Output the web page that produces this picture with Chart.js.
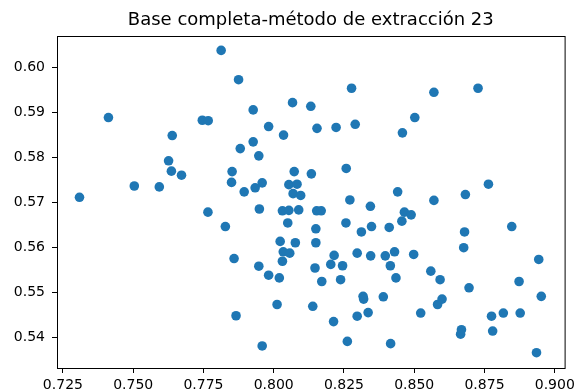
<!DOCTYPE html>
<html>
<head>
<meta charset="utf-8">
<script src="https://cdn.jsdelivr.net/npm/chart.js@4/dist/chart.umd.min.js"></script>
<style>
  body { margin: 0; background: #fff; }
  #wrap { width: 579px; height: 392px; }
</style>
</head>
<body>
<div id="wrap"><canvas id="scatterChart" width="579" height="392"></canvas></div>
<script>
const titleText = "Base completa-método de extracción 23";

const xValues = [
  0.7813, 0.7412, 0.7746, 0.7767, 0.7639, 0.7626, 0.7636, 0.7672, 0.7504, 0.7593,
  0.7309, 0.7875, 0.8277, 0.8067, 0.8132, 0.7927, 0.7982, 0.8035, 0.8154, 0.8222,
  0.8290, 0.7927, 0.7881, 0.7947, 0.7852, 0.7850, 0.7895, 0.7934, 0.7959, 0.8073,
  0.8134, 0.8258, 0.8054, 0.8083, 0.8069, 0.8096, 0.8271, 0.8441, 0.8570, 0.8727,
  0.8502, 0.8458, 0.8570, 0.8682, 0.8764, 0.7766, 0.7828, 0.7949, 0.8031, 0.8054,
  0.8089, 0.8153, 0.8169, 0.8344, 0.8050, 0.8150, 0.8257, 0.8312, 0.8348, 0.8411,
  0.8023, 0.8077, 0.8150, 0.8034, 0.8057, 0.8031, 0.7859, 0.7947, 0.7982, 0.8020,
  0.8147, 0.8171, 0.8215, 0.8203, 0.8245, 0.8238, 0.8297, 0.8345, 0.8397, 0.8415,
  0.8430, 0.8435, 0.8012, 0.8139, 0.8318, 0.8320, 0.8390, 0.7866, 0.8213, 0.8297,
  0.8336, 0.7959, 0.8262, 0.8416, 0.8465, 0.8489, 0.8456, 0.8679, 0.8847, 0.8498,
  0.8676, 0.8559, 0.8592, 0.8695, 0.8943, 0.8873, 0.8952, 0.8583, 0.8599, 0.8523,
  0.8775, 0.8817, 0.8877, 0.8668, 0.8665, 0.8779, 0.8935
];

const yValues = [
  0.6038, 0.5889, 0.5883, 0.5882, 0.5849, 0.5793, 0.5770, 0.5761, 0.5737, 0.5735,
  0.5712, 0.5973, 0.5954, 0.5922, 0.5914, 0.5906, 0.5869, 0.5850, 0.5865, 0.5867,
  0.5874, 0.5835, 0.5820, 0.5804, 0.5769, 0.5745, 0.5724, 0.5733, 0.5744, 0.5769,
  0.5764, 0.5776, 0.5740, 0.5741, 0.5720, 0.5716, 0.5706, 0.5724, 0.5945, 0.5954,
  0.5889, 0.5855, 0.5705, 0.5718, 0.5741, 0.5679, 0.5647, 0.5686, 0.5682, 0.5683,
  0.5684, 0.5682, 0.5682, 0.5692, 0.5655, 0.5642, 0.5655, 0.5635, 0.5647, 0.5645,
  0.5614, 0.5611, 0.5611, 0.5591, 0.5588, 0.5570, 0.5576, 0.5559, 0.5539, 0.5533,
  0.5555, 0.5525, 0.5583, 0.5563, 0.5560, 0.5529, 0.5588, 0.5582, 0.5582, 0.5560,
  0.5591, 0.5533, 0.5474, 0.5470, 0.5492, 0.5486, 0.5491, 0.5449, 0.5436, 0.5448,
  0.5456, 0.5382, 0.5392, 0.5387, 0.5679, 0.5673, 0.5659, 0.5635, 0.5647, 0.5585,
  0.5600, 0.5548, 0.5529, 0.5511, 0.5574, 0.5525, 0.5492, 0.5474, 0.5486, 0.5455,
  0.5448, 0.5455, 0.5455, 0.5418, 0.5408, 0.5415, 0.5367
];

const xTicks = [0.725, 0.750, 0.775, 0.800, 0.825, 0.850, 0.875, 0.900];
const yTicks = [0.54, 0.55, 0.56, 0.57, 0.58, 0.59, 0.60];

const points = xValues.map((x, i) => ({x: x, y: yValues[i]}));

// box around the plot area (matplotlib spines) + title centred over the axes
const frameAndTitle = {
  id: "frameAndTitle",
  afterDraw(chart) {
    const {ctx, chartArea} = chart;
    ctx.save();
    ctx.strokeStyle = "#000";
    ctx.lineWidth = 1;
    ctx.strokeRect(chartArea.left + 0.5, chartArea.top + 0.5,
      chartArea.right - chartArea.left, chartArea.bottom - chartArea.top);
    ctx.fillStyle = "#000";
    ctx.font = "18px 'DejaVu Sans'";
    ctx.textAlign = "center";
    ctx.textBaseline = "middle";
    ctx.fillText(titleText, (chartArea.left + chartArea.right) / 2, 20);
    ctx.restore();
  }
};

const tickFont = {family: "DejaVu Sans", size: 14};

new Chart(document.getElementById("scatterChart"), {
  type: "scatter",
  data: {
    datasets: [{
      data: points,
      backgroundColor: "#1f77b4",
      borderWidth: 0,
      pointRadius: 4.8
    }]
  },
  options: {
    responsive: false,
    animation: false,
    layout: {padding: {right: 10, top: 36, left: 0, bottom: 0}},
    plugins: {
      legend: {display: false},
      tooltip: {enabled: false},
      title: {display: false}
    },
    scales: {
      x: {
        type: "linear",
        min: 0.7229,
        max: 0.9035,
        afterFit: s => { s.height = 24; },
        afterBuildTicks: s => { s.ticks = xTicks.map(v => ({value: v})); },
        grid: {drawOnChartArea: false, drawTicks: true, tickLength: 5, color: "#000"},
        border: {display: true, color: "#000"},
        ticks: {
          color: "#000", font: tickFont, padding: 4, maxRotation: 0,
          callback: v => v.toFixed(3)
        }
      },
      y: {
        type: "linear",
        min: 0.5333,
        max: 0.6070,
        afterFit: s => { s.width = 57; },
        afterBuildTicks: s => { s.ticks = yTicks.map(v => ({value: v})); },
        grid: {drawOnChartArea: false, drawTicks: true, tickLength: 5, color: "#000"},
        border: {display: true, color: "#000"},
        ticks: {
          color: "#000", font: tickFont, padding: 7,
          callback: v => v.toFixed(2)
        }
      }
    }
  },
  plugins: [frameAndTitle]
});
</script>
</body>
</html>
